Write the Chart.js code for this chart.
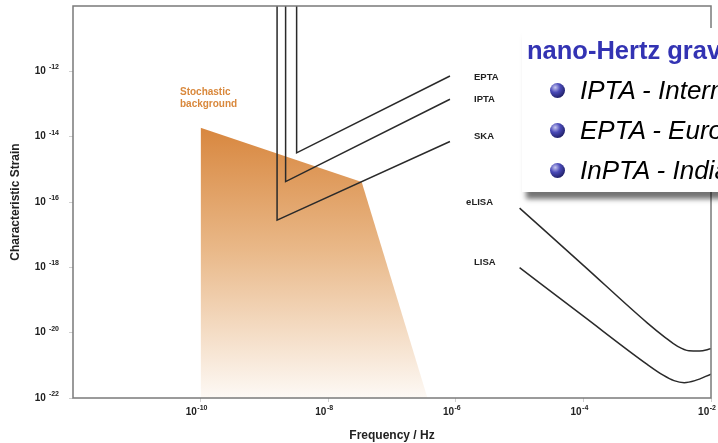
<!DOCTYPE html>
<html>
<head>
<meta charset="utf-8">
<script src="https://cdn.jsdelivr.net/npm/chart.js@4.4.0/dist/chart.umd.min.js"></script>
<style>
  html, body { margin: 0; padding: 0; background: #fff; overflow: hidden; }
  #wrap { position: relative; width: 718px; height: 443px; overflow: hidden; font-family: "Liberation Sans", Arial, sans-serif; }
  #box { position: absolute; left: 522px; top: 28px; width: 260px; height: 164px; background: #fff; box-shadow: 3px 8px 5px -1px rgba(0, 0, 0, 0.55); }
  #box .title { position: absolute; left: 5px; top: 8px; line-height: 28px; color: #3333b3; font-weight: bold; font-size: 25.5px; white-space: nowrap; }
  #box .item { position: absolute; left: 28px; height: 30px; line-height: 30px; white-space: nowrap; font-style: italic; font-size: 26px; color: #000; }
  .ball { display: inline-block; width: 15px; height: 15px; margin-right: 15px; border-radius: 50%; vertical-align: middle; position: relative; top: -2px;
          background: radial-gradient(circle at 35% 30%, #c8c8f0 0%, #4a4ab8 35%, #20206a 75%, #101040 100%); }
</style>
</head>
<body>
<div id="wrap">
  <canvas id="strainChart" width="718" height="443"></canvas>
  <div id="box">
    <div class="title">nano-Hertz gravitational waves</div>
    <div class="item" style="top:47px"><span class="ball"></span>IPTA - International Pulsar Timing Array</div>
    <div class="item" style="top:87px"><span class="ball"></span>EPTA - European Pulsar Timing Array</div>
    <div class="item" style="top:127px"><span class="ball"></span>InPTA - Indian Pulsar Timing Array</div>
  </div>
</div>
<script>
// axis ticks (decades)
const freqTicks = [1e-10, 1e-8, 1e-6, 1e-4, 1e-2];
const strainTicks = [1e-22, 1e-20, 1e-18, 1e-16, 1e-14, 1e-12];

// pulsar timing arrays: vertical cut-off then rising sensitivity
const eptaFreq = [3.2e-9, 3.2e-9, 8.1e-7];
const eptaStrain = [1e-10, 3.2e-15, 7.2e-13];
const iptaFreq = [2.15e-9, 2.15e-9, 8.1e-7];
const iptaStrain = [1e-10, 4.2e-16, 1.4e-13];
const skaFreq = [1.58e-9, 1.58e-9, 8.1e-7];
const skaStrain = [1e-10, 2.8e-17, 7.1e-15];

// space interferometers
const elisaFreq = [1e-5, 1e-4, 1e-3, 1.9e-3, 3.0e-3, 4.5e-3, 6.6e-3, 1e-2];
const elisaStrain = [6.5e-17, 1.15e-18, 2.0e-20, 7.2e-21, 3.8e-21, 2.8e-21, 2.75e-21, 3.2e-21];
const lisaFreq = [1e-5, 1e-4, 1e-3, 1.78e-3, 2.63e-3, 3.8e-3, 5.6e-3, 1e-2];
const lisaStrain = [9.8e-19, 3.2e-20, 1.07e-21, 5.0e-22, 3.4e-22, 2.95e-22, 3.4e-22, 5.4e-22];

// stochastic background region (upper outline)
const stochFreq = [1e-10, 3.35e-8, 3.6e-7];
const stochStrain = [1.86e-14, 4.1e-16, 1e-22];

// curve labels: text, freq, strain
const labelText = ["EPTA", "IPTA", "SKA", "eLISA", "LISA"];
const labelFreq = [1.93e-6, 1.93e-6, 1.93e-6, 1.45e-6, 1.93e-6];
const labelStrain = [6.6e-13, 1.4e-13, 1e-14, 1e-16, 1.4e-18];
const stochLabel = ["Stochastic", "background"];
const stochLabelFreq = 4.75e-11;
const stochLabelStrain = [2.26e-13, 9.7e-14];

const FONT = '"Liberation Sans", Arial, Helvetica, sans-serif';
const pts = (xs, ys) => xs.map((x, i) => ({ x: x, y: ys[i] }));

function curve(xs, ys) {
  return {
    data: pts(xs, ys),
    borderColor: "#2a2a2a",
    borderWidth: 1.5,
    pointRadius: 0,
    fill: false,
    tension: 0,
  };
}

function drawPower(ctx, px, py, value, align, gap) {
  const exp = String(Math.round(Math.log10(value)));
  ctx.font = "bold 10px " + FONT;
  const baseW = ctx.measureText("10").width;
  ctx.font = "bold 7px " + FONT;
  const supW = ctx.measureText(exp).width;
  const total = baseW + gap + supW;
  const x0 = align === "right" ? px - total : px - total / 2;
  ctx.textAlign = "left";
  ctx.textBaseline = "middle";
  ctx.font = "bold 10px " + FONT;
  ctx.fillText("10", x0, py);
  ctx.font = "bold 7px " + FONT;
  ctx.fillText(exp, x0 + baseW + gap, py - 4);
}

const decorations = {
  id: "decorations",
  afterDatasetsDraw(chart) {
    const { ctx, chartArea: a, scales } = chart;
    const x = scales.x, y = scales.y;
    ctx.save();
    ctx.strokeStyle = "#7a7a7a";
    ctx.lineWidth = 1.5;
    ctx.strokeRect(a.left, a.top, a.right - a.left, a.bottom - a.top);

    ctx.fillStyle = "#222";
    ctx.font = "bold 9.5px " + FONT;
    ctx.textAlign = "left";
    ctx.textBaseline = "middle";
    labelText.forEach((t, i) => {
      ctx.fillText(t, x.getPixelForValue(labelFreq[i]), y.getPixelForValue(labelStrain[i]));
    });

    ctx.fillStyle = "#d9883c";
    ctx.font = "bold 10px " + FONT;
    stochLabel.forEach((t, i) => {
      ctx.fillText(t, x.getPixelForValue(stochLabelFreq), y.getPixelForValue(stochLabelStrain[i]));
    });

    ctx.fillStyle = "#222";
    y.ticks.forEach((tk) => drawPower(ctx, 59, y.getPixelForValue(tk.value), tk.value, "right", 3));
    x.ticks.forEach((tk) => drawPower(ctx, x.getPixelForValue(tk.value) - 4, 412, tk.value, "center", 0.5));
    ctx.restore();
  },
};

const stochSet = {
  data: pts(stochFreq, stochStrain),
  borderWidth: 0,
  borderColor: "rgba(0,0,0,0)",
  pointRadius: 0,
  fill: "start",
  backgroundColor: (c) => {
    const chart = c.chart;
    const a = chart.chartArea;
    if (!a) return "#e0a060";
    const top = chart.scales.y.getPixelForValue(stochStrain[0]);
    const g = chart.ctx.createLinearGradient(0, top, 0, a.bottom);
    g.addColorStop(0, "#d8873f");
    g.addColorStop(0.45, "#e9b888");
    g.addColorStop(1, "#fdf9f5");
    return g;
  },
};

new Chart(document.getElementById("strainChart"), {
  type: "line",
  data: {
    datasets: [
      curve(eptaFreq, eptaStrain),
      curve(iptaFreq, iptaStrain),
      curve(skaFreq, skaStrain),
      Object.assign(curve(elisaFreq, elisaStrain), { cubicInterpolationMode: "monotone" }),
      Object.assign(curve(lisaFreq, lisaStrain), { cubicInterpolationMode: "monotone" }),
      stochSet,
    ],
  },
  options: {
    responsive: false,
    animation: false,
    layout: { padding: { top: 6, right: 7, left: 0, bottom: 0 } },
    plugins: { legend: { display: false }, tooltip: { enabled: false } },
    scales: {
      x: {
        type: "logarithmic",
        min: 1e-12,
        max: 1e-2,
        afterBuildTicks: (s) => { s.ticks = freqTicks.map((v) => ({ value: v })); },
        afterFit: (s) => { s.height = 45; },
        ticks: { display: false },
        grid: { drawOnChartArea: false, tickLength: 4, color: "#cfcfcf" },
        border: { display: false },
        title: { display: true, text: "Frequency / Hz", color: "#222", font: { family: FONT, size: 12, weight: "bold" }, padding: { top: 0, bottom: 0 } },
      },
      y: {
        type: "logarithmic",
        min: 1e-22,
        max: 1e-10,
        afterBuildTicks: (s) => { s.ticks = strainTicks.map((v) => ({ value: v })); },
        afterFit: (s) => { s.width = 73; },
        ticks: { display: false },
        grid: { drawOnChartArea: false, tickLength: 4, color: "#cfcfcf" },
        border: { display: false },
        title: { display: true, text: "Characteristic Strain", color: "#222", font: { family: FONT, size: 12, weight: "bold" }, padding: { top: 8, bottom: 0 } },
      },
    },
  },
  plugins: [decorations],
});
</script>
</body>
</html>
